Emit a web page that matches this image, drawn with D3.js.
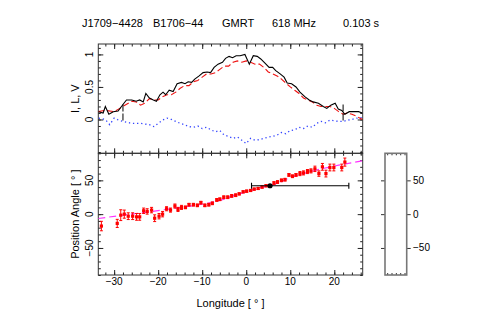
<!DOCTYPE html>
<html><head><meta charset="utf-8">
<script src="https://cdn.jsdelivr.net/npm/d3@7"></script>
<style>body{margin:0;background:#fff}svg{display:block}text{font-family:"Liberation Sans",Arial,sans-serif;fill:#000}</style>
</head><body><svg id="c" width="491" height="327"></svg>
<script>
// ---- data ----
const titleParts = ["J1709\u22124428","B1706\u221244","GMRT","618 MHz","0.103 s"];
const iLon = [-33.6,-32.5,-32,-31.2,-30.2,-29.1,-28,-27.2,-26,-25,-24.2,-23.4,-22.8,-22,-21.1,-20.4,-19.6,-18.9,-18.3,-17.5,-16.6,-15.7,-14.7,-13.9,-13.2,-12.4,-11.7,-10.7,-9.8,-8.9,-8.1,-7.3,-6.4,-5.4,-4.7,-3.9,-3.1,-2.3,-1.4,-0.3,0.7,1.6,2.5,3.3,4.2,5.2,6.0,6.7,7.7,8.6,9.3,10.3,11.3,12.2,13.3,14.3,15.2,16.4,17.5,18.3,19.2,20.2,20.9,21.7,22.4,23.4,24.3,25.5,26.4];
const iVal = [0.12,0.10,0.20,0.08,0.12,0.13,0.23,0.30,0.30,0.28,0.30,0.27,0.40,0.33,0.30,0.28,0.38,0.42,0.38,0.45,0.43,0.55,0.57,0.55,0.58,0.57,0.62,0.67,0.72,0.73,0.72,0.80,0.85,0.88,0.94,0.97,0.95,0.98,0.98,1.00,0.85,0.98,0.97,0.93,0.87,0.80,0.80,0.75,0.70,0.65,0.56,0.55,0.50,0.42,0.35,0.30,0.27,0.25,0.20,0.17,0.22,0.25,0.16,0.14,0.08,0.12,0.12,0.12,0.10];
const lLon = [-33.6,-32,-30,-28,-26,-25,-24,-23,-22,-21,-20,-19,-18,-17,-16,-15,-14,-13,-12,-11,-10,-9,-8,-7,-6,-5,-4,-3,-2,-1,0,1,2,3,4,5,6,7,8,9,10,11,12,13,14,15,16,17,18,19,20,21,22,23,24,25,26.4];
const lVal = [0.12,0.14,0.12,0.20,0.28,0.27,0.22,0.25,0.32,0.30,0.30,0.35,0.38,0.38,0.42,0.48,0.52,0.52,0.58,0.60,0.65,0.70,0.70,0.72,0.77,0.82,0.82,0.88,0.90,0.88,0.90,0.88,0.85,0.85,0.80,0.73,0.70,0.67,0.62,0.56,0.50,0.45,0.40,0.33,0.30,0.27,0.22,0.20,0.20,0.20,0.17,0.12,0.08,0.10,0.08,0.05,0.00];
const vLon = [-33.5,-32,-31,-30,-29,-28,-26,-24,-22,-21,-20,-19,-18,-17,-16,-15,-14,-13,-12,-11,-10,-9,-8,-7,-6,-5,-4,-3,-2,-1,0,1,2,3,4,5,6,7,8,9,10,11,12,13,14,15,16,17,18,19,20,21,22,23,24,25,26.4];
const vVal = [0.02,0.00,-0.08,0.02,-0.01,-0.03,-0.06,-0.06,-0.08,-0.11,-0.06,-0.01,0.02,0.00,-0.03,-0.06,-0.08,-0.11,-0.12,-0.10,-0.14,-0.12,-0.16,-0.19,-0.17,-0.24,-0.26,-0.29,-0.27,-0.32,-0.37,-0.29,-0.32,-0.31,-0.29,-0.27,-0.26,-0.24,-0.20,-0.22,-0.17,-0.16,-0.12,-0.14,-0.10,-0.12,-0.06,-0.03,-0.05,-0.01,-0.02,-0.03,-0.03,-0.01,0.00,0.02,0.03];
const windowLon = [-28, 22];
const paLon = [-32.9,-29.3,-28.5,-27.7,-26.8,-25.8,-24.9,-24.2,-23.3,-22.5,-21.5,-20.8,-19.8,-19.0,-18.1,-17.2,-16.2,-15.5,-14.7,-13.8,-13.0,-12.0,-11.1,-10.3,-9.4,-8.5,-7.7,-6.7,-6.0,-5.1,-4.2,-3.3,-2.4,-1.6,-0.7,0.1,1.0,1.8,2.7,3.6,4.5,5.4,6.3,7.1,8.0,8.8,9.7,10.5,11.3,12.2,13.0,13.9,14.7,15.6,16.5,17.3,18.1,19.0,19.9,21.7,22.4];
const paVal = [-17.6,-13.7,-1.5,0,-3,-3,-4,-4,5,4,6,-6,-3,0,8,6,12,7,10,10,14,14,13,17,13,14,16,21,22,25,25,27,28,30,33,34,35,37,38,40,42,42,46,47.5,50,51,58,56,58,60,61,63,64,67,60,70,60,69,69,69,77];
const paErr = [7,6,8,6,5,5,5,5,4,4,4,5,4,4,3,3,3,3,3,2,2,2,2,2,2,2,2,2,2,2,2,2,2,1.5,1.5,1.5,1.5,1.5,1.5,1.5,1.5,1.5,2,2,2,2,2,2,2,3,3,3,3,4,4,5,5,5,5,5,6];
const fitLon = [-33.6,-28,-22,-16,-12,-8,-5,-3,0,3,5.4,8,10,13,17,21,26.4];
const fitVal = [-6.4,-1.5,3.5,9,12.5,17,22,27,33,39,42,48,54.5,60,67,72.5,79];
const refPoint = {lon: 5.4, pa: 42, lonLo: 1.2, lonHi: 23.3};
const xTicks = [-30,-20,-10,0,10,20];
const topYTicks = [0,0.5,1];
const paTicks = [-50,0,50];

// ---- layout ----
const svg = d3.select("#c");
const L = 98.3, R = 362.7, T1 = 44, B1 = 153.3, T2 = 153.3, B2 = 275;
const x = d3.scaleLinear().domain([-33.6, 26.45]).range([L, R]);
const y1 = d3.scaleLinear().domain([-0.52, 1.16]).range([B1, T1]);
const y2 = d3.scaleLinear().domain([-90, 90]).range([B2, T2]);
const fmt = d => d3.format("")(d).replace("-", "\u2212");

// title
const titleX = [82, 153, 222, 272, 343];
titleParts.forEach((t, i) => svg.append("text").attr("x", titleX[i]).attr("y", 27).attr("font-size", 11).text(t));

function ticks(g, axisFn, scale, major, minor, pos, len) {
  const a = axisFn(scale).tickValues(minor).tickSize(len * 0.5).tickFormat("");
  const b = axisFn(scale).tickValues(major).tickSize(len).tickFormat("");
  const gm = g.append("g").attr("transform", pos).call(a);
  const gM = g.append("g").attr("transform", pos).call(b);
  [gm, gM].forEach(s => { s.select(".domain").remove(); s.selectAll("line").attr("stroke", "#222"); });
}
function frame(yScale, top, bot, yMajor, yMinor) {
  const g = svg.append("g");
  const xMinor = d3.range(-32, 27, 2);
  ticks(g, d3.axisTop, x, xTicks, xMinor, `translate(0,${bot})`, 5);
  ticks(g, d3.axisBottom, x, xTicks, xMinor, `translate(0,${top})`, 5);
  ticks(g, d3.axisRight, yScale, yMajor, yMinor, `translate(${L},0)`, 5);
  ticks(g, d3.axisLeft, yScale, yMajor, yMinor, `translate(${R},0)`, 5);
  g.append("rect").attr("x", L).attr("y", top).attr("width", R - L).attr("height", bot - top)
    .attr("fill", "none").attr("stroke", "#333").attr("stroke-width", 1);
}
frame(y1, T1, B1, topYTicks, d3.range(-0.5, 1.16, 0.1).map(v => +v.toFixed(2)));
frame(y2, T2, B2, paTicks, d3.range(-90, 91, 10));

// clip
svg.append("clipPath").attr("id", "cp1").append("rect").attr("x", L).attr("y", T1).attr("width", R - L).attr("height", B1 - T1);
svg.append("clipPath").attr("id", "cp2").append("rect").attr("x", L).attr("y", T2).attr("width", R - L).attr("height", B2 - T2);

// top panel profiles
const p1 = svg.append("g").attr("clip-path", "url(#cp1)");
const line = (lons, vals, ys) => d3.line().x((d, i) => x(lons[i])).y((d, i) => ys(vals[i]))(vals);
p1.append("path").attr("d", line(vLon, vVal, y1)).attr("fill", "none").attr("stroke", "#3344ff").attr("stroke-width", 1.3).attr("stroke-dasharray", "1.3,2.8");
p1.append("path").attr("d", line(lLon, lVal, y1)).attr("fill", "none").attr("stroke", "#ee1111").attr("stroke-width", 1.1).attr("stroke-dasharray", "6,3");
p1.append("path").attr("d", line(iLon, iVal, y1)).attr("fill", "none").attr("stroke", "#000").attr("stroke-width", 1.1);
windowLon.forEach(w => p1.append("line").attr("x1", x(w)).attr("x2", x(w)).attr("y1", y1(0.23)).attr("y2", y1(-0.03))
  .attr("stroke", "#000").attr("stroke-width", 1).attr("stroke-dasharray", "7,2"));

// bottom panel
const p2 = svg.append("g").attr("clip-path", "url(#cp2)");
p2.append("path").attr("d", line(fitLon, fitVal, y2)).attr("fill", "none").attr("stroke", "#ff33ff").attr("stroke-width", 1.2).attr("stroke-dasharray", "7,4");
const pts = p2.selectAll("g.pt").data(paVal).enter().append("g");
pts.append("line").attr("x1", (d, i) => x(paLon[i])).attr("x2", (d, i) => x(paLon[i]))
  .attr("y1", (d, i) => y2(d - paErr[i])).attr("y2", (d, i) => y2(d + paErr[i])).attr("stroke", "#ff0000").attr("stroke-width", 1);
[-1, 1].forEach(s => pts.append("line").attr("x1", (d, i) => x(paLon[i]) - 1.5).attr("x2", (d, i) => x(paLon[i]) + 1.5)
  .attr("y1", (d, i) => y2(d + s * paErr[i])).attr("y2", (d, i) => y2(d + s * paErr[i])).attr("stroke", "#ff0000").attr("stroke-width", 1));
pts.append("rect").attr("x", (d, i) => x(paLon[i]) - 1.6).attr("y", d => y2(d) - 1.6).attr("width", 3.2).attr("height", 3.2).attr("fill", "#ff0000");
// reference point
const ry = y2(refPoint.pa);
p2.append("line").attr("x1", x(refPoint.lonLo)).attr("x2", x(refPoint.lonHi)).attr("y1", ry).attr("y2", ry).attr("stroke", "#000").attr("stroke-width", 1.1);
[refPoint.lonLo, refPoint.lonHi].forEach(v => p2.append("line").attr("x1", x(v)).attr("x2", x(v)).attr("y1", ry - 3).attr("y2", ry + 3).attr("stroke", "#000").attr("stroke-width", 1.1));
p2.append("circle").attr("cx", x(refPoint.lon)).attr("cy", ry).attr("r", 2.6).attr("fill", "#000");

// labels
xTicks.forEach(v => svg.append("text").attr("x", x(v)).attr("y", 285).attr("text-anchor", "middle").attr("font-size", 10).text(fmt(v)));
topYTicks.forEach(v => svg.append("text").attr("transform", `translate(93,${y1(v)}) rotate(-90)`).attr("text-anchor", "middle").attr("font-size", 10).text(fmt(v)));
paTicks.forEach(v => svg.append("text").attr("transform", `translate(93,${y2(v)}) rotate(-90)`).attr("text-anchor", "middle").attr("font-size", 10).text(fmt(v)));
svg.append("text").attr("transform", `translate(79,${(T1 + B1) / 2}) rotate(-90)`).attr("text-anchor", "middle").attr("font-size", 11).text("I, L, V");
svg.append("text").attr("transform", `translate(79,${(T2 + B2) / 2}) rotate(-90)`).attr("text-anchor", "middle").attr("font-size", 11).text("Position Angle [ \u00b0 ]");
svg.append("text").attr("x", (L + R) / 2).attr("y", 307).attr("text-anchor", "middle").attr("font-size", 11).text("Longitude [ \u00b0 ]");

// side panel
const SL = 385, SR = 406.7;
const side = svg.append("g");
const sMinor = d3.scaleLinear().domain([0, 1]).range([SL, SR]);
const sl = side.append("g").attr("transform", `translate(${SL},0)`).call(d3.axisLeft(y2).tickValues(paTicks).tickSize(4).tickFormat(""));
const sr = side.append("g").attr("transform", `translate(${SR},0)`).call(d3.axisRight(y2).tickValues(paTicks).tickSize(4).tickFormat(""));
const st = side.append("g").attr("transform", `translate(0,${T2})`).call(d3.axisBottom(sMinor).tickValues(d3.range(0.1, 1, 0.2)).tickSize(2).tickFormat(""));
const sb = side.append("g").attr("transform", `translate(0,${B2})`).call(d3.axisTop(sMinor).tickValues(d3.range(0.1, 1, 0.2)).tickSize(2).tickFormat(""));
[sl, sr, st, sb].forEach(s => { s.select(".domain").remove(); s.selectAll("line").attr("stroke", "#333"); });
side.append("rect").attr("x", SL).attr("y", T2).attr("width", SR - SL).attr("height", B2 - T2).attr("fill", "none").attr("stroke", "#777").attr("stroke-width", 1.6);
paTicks.forEach(v => side.append("text").attr("x", 413).attr("y", y2(v) + 3.5).attr("font-size", 10).text(fmt(v)));
</script></body></html>
